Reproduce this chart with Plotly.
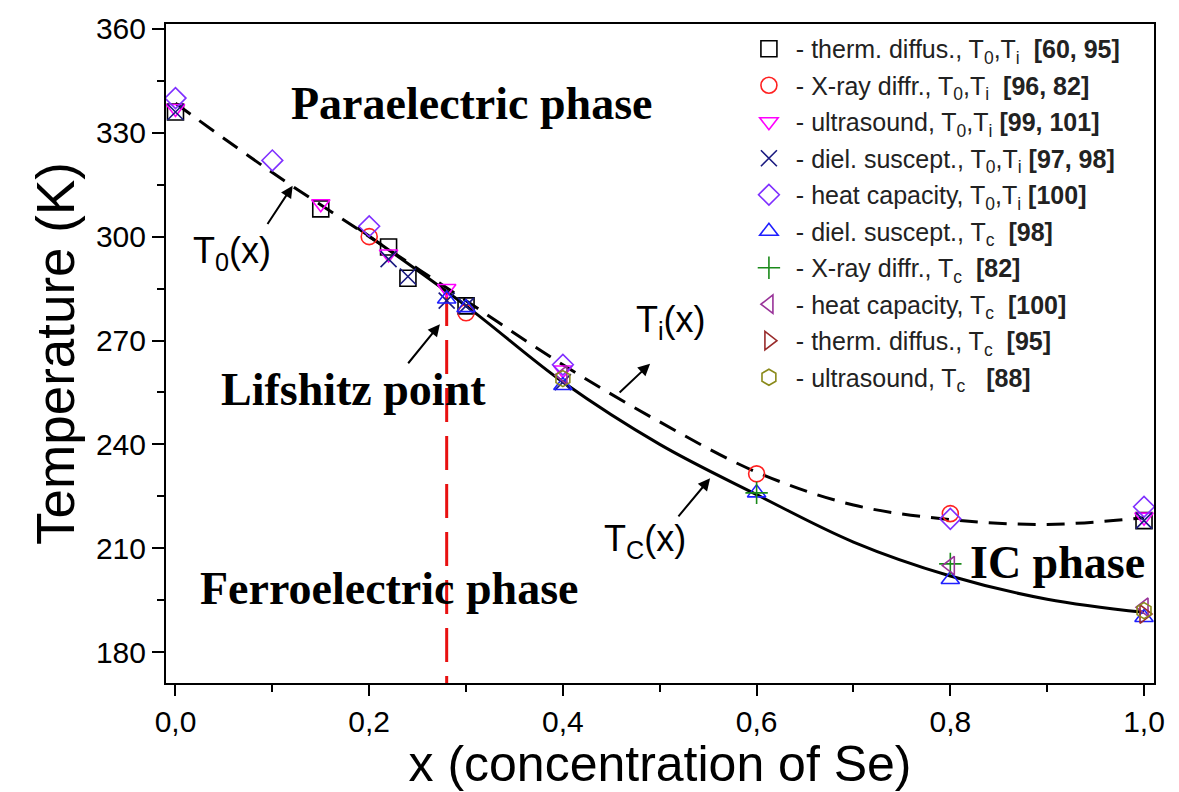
import plotly.graph_objects as go

# ---- data ----
therm_T0_x = [0.0, 0.15, 0.22, 0.24, 0.30, 1.0]
therm_T0_y = [336, 308, 297, 288, 280, 218]
xray_T0_x = [0.2, 0.3, 0.6, 0.8]
xray_T0_y = [300, 278, 231.5, 220]
ultra_T0_x = [0.0, 0.15, 0.22, 0.28, 0.4, 1.0]
ultra_T0_y = [337, 309.5, 295, 285, 261.5, 219]
diel_T0_x = [0.0, 0.22, 0.24, 0.28, 0.30, 0.4, 1.0]
diel_T0_y = [336, 293.5, 288.5, 281.5, 280, 258, 218]
heat_T0_x = [0.0, 0.1, 0.2, 0.4, 0.8, 1.0]
heat_T0_y = [340, 322, 303, 263, 218.5, 222]
diel_Tc_x = [0.28, 0.30, 0.4, 0.6, 0.8, 1.0]
diel_Tc_y = [282, 279.5, 257, 226, 201, 190]
xray_Tc_x = [0.6, 0.8]
xray_Tc_y = [226, 205.5]
heat_Tc_x = [0.4, 0.8, 1.0]
heat_Tc_y = [260, 205, 193]
therm_Tc_x = [1.0]
therm_Tc_y = [191]
ultra_Tc_x = [0.4, 1.0]
ultra_Tc_y = [259, 192]

# phase boundary curves
ti_curve_x = [0.0, 0.1, 0.2, 0.3, 0.4, 0.5, 0.6, 0.7, 0.8, 0.9, 1.0]
ti_curve_y = [338.5, 318.5, 300.0, 281.5, 263.0, 246.5, 232.0, 222.5, 218.3, 216.9, 218.8]
tc_curve_x = [0.188, 0.3, 0.4, 0.5, 0.6, 0.7, 0.8, 0.9, 1.0]
tc_curve_y = [302.5, 280.0, 258.0, 240.0, 225.5, 211.8, 202.0, 195.3, 191.5]

lifshitz_x = 0.28
lifshitz_T = 284

x_ticks = [0.0, 0.2, 0.4, 0.6, 0.8, 1.0]
y_ticks = [180, 210, 240, 270, 300, 330, 360]

series = [
    (therm_T0_x, therm_T0_y, "square-open", "#000000", " - therm. diffus., T<sub>0</sub>,T<sub>i</sub>  <b>[60, 95]</b>"),
    (xray_T0_x, xray_T0_y, "circle-open", "#ff2020", " - X-ray diffr., T<sub>0</sub>,T<sub>i</sub>  <b>[96, 82]</b>"),
    (ultra_T0_x, ultra_T0_y, "triangle-down-open", "#ff00ff", " - ultrasound, T<sub>0</sub>,T<sub>i</sub> <b>[99, 101]</b>"),
    (diel_T0_x, diel_T0_y, "x-thin-open", "#1a1a80", " - diel. suscept., T<sub>0</sub>,T<sub>i</sub> <b>[97, 98]</b>"),
    (heat_T0_x, heat_T0_y, "diamond-open", "#7f2fff", " - heat capacity, T<sub>0</sub>,T<sub>i</sub> <b>[100]</b>"),
    (diel_Tc_x, diel_Tc_y, "triangle-up-open", "#1f1fff", " - diel. suscept., T<sub>c</sub>  <b>[98]</b>"),
    (xray_Tc_x, xray_Tc_y, "cross-thin-open", "#1a8a1a", " - X-ray diffr., T<sub>c</sub>  <b>[82]</b>"),
    (heat_Tc_x, heat_Tc_y, "triangle-left-open", "#993399", " - heat capacity, T<sub>c</sub>  <b>[100]</b>"),
    (therm_Tc_x, therm_Tc_y, "triangle-right-open", "#992b2b", " - therm. diffus., T<sub>c</sub>  <b>[95]</b>"),
    (ultra_Tc_x, ultra_Tc_y, "hexagon-open", "#8a8a1a", " - ultrasound, T<sub>c</sub>   <b>[88]</b>"),
]

fig = go.Figure()

# curves
fig.add_trace(go.Scatter(x=ti_curve_x, y=ti_curve_y, mode="lines", showlegend=False,
                         line=dict(color="black", width=3, dash="18px,11px", shape="spline", smoothing=1.0),
                         hoverinfo="skip"))
fig.add_trace(go.Scatter(x=tc_curve_x, y=tc_curve_y, mode="lines", showlegend=False,
                         line=dict(color="black", width=3, shape="spline", smoothing=1.0),
                         hoverinfo="skip"))
# Lifshitz point vertical line
fig.add_trace(go.Scatter(x=[lifshitz_x, lifshitz_x], y=[lifshitz_T, 171.1], mode="lines", showlegend=False,
                         line=dict(color="#e81010", width=3, dash="34px,14px"), hoverinfo="skip"))

for i, (xs, ys, sym, col, name) in enumerate(series):
    fig.add_trace(go.Scatter(
        x=xs, y=ys, mode="markers", name=name, legendgroup=f"g{i}",
        marker=dict(symbol=sym, color=col, size=16, line=dict(color=col, width=1.6)),
    ))

serif = "Liberation Serif, Times New Roman, serif"
sans = "Liberation Sans, Arial, sans-serif"

annotations = [
    dict(x=0.306, y=338.5, text="<b>Paraelectric phase</b>", font=dict(family=serif, size=46, color="black")),
    dict(x=0.184, y=255.8, text="<b>Lifshitz point</b>", font=dict(family=serif, size=46, color="black")),
    dict(x=0.22, y=198.4, text="<b>Ferroelectric phase</b>", font=dict(family=serif, size=46, color="black")),
    dict(x=0.911, y=205.8, text="<b>IC phase</b>", font=dict(family=serif, size=46, color="black")),
    dict(x=0.058, y=295.4, text="T<sub>0</sub>(x)", font=dict(family=sans, size=36, color="black")),
    dict(x=0.512, y=275.3, text="T<sub>i</sub>(x)", font=dict(family=sans, size=36, color="black")),
    dict(x=0.485, y=212.2, text="T<sub>C</sub>(x)", font=dict(family=sans, size=36, color="black")),
]
for a in annotations:
    a.update(xref="x", yref="y", showarrow=False)

arrows = [
    (0.094, 303.2, 0.121, 314.7),
    (0.239, 263.0, 0.273, 274.7),
    (0.457, 254.6, 0.490, 263.3),
    (0.518, 218.8, 0.552, 230.2),
]
for tx, ty, hx, hy in arrows:
    annotations.append(dict(x=hx, y=hy, ax=tx, ay=ty, xref="x", yref="y", axref="x", ayref="y",
                            text="", showarrow=True, arrowhead=2, arrowsize=1.2, arrowwidth=2,
                            arrowcolor="black"))

fig.update_layout(
    width=1179, height=792,
    margin=dict(l=166, r=25, t=20, b=109),
    paper_bgcolor="white", plot_bgcolor="white",
    separators=", ",
    annotations=annotations,
    legend=dict(x=0.59, y=0.997, xanchor="left", yanchor="top", bgcolor="rgba(0,0,0,0)",
                font=dict(family=sans, size=25, color="#222"), tracegroupgap=1,
                itemwidth=30),
    xaxis=dict(range=[-0.0098, 1.0103], tickvals=x_ticks, tickformat=".1f",
               showline=True, linecolor="black", linewidth=2, mirror=True,
               ticks="outside", ticklen=11, tickwidth=2, tickcolor="black",
               minor=dict(dtick=0.1, ticks="outside", ticklen=7, tickwidth=2, tickcolor="black"),
               showgrid=False, zeroline=False,
               tickfont=dict(family=sans, size=30, color="black"),
               title=dict(text="x (concentration of Se)", font=dict(family=sans, size=50, color="black"), standoff=6)),
    yaxis=dict(range=[171.1, 361.4], tickvals=y_ticks,
               showline=True, linecolor="black", linewidth=2, mirror=True,
               ticks="outside", ticklen=12, tickwidth=2, tickcolor="black",
               minor=dict(tick0=180, dtick=15, ticks="outside", ticklen=7, tickwidth=2, tickcolor="black"),
               showgrid=False, zeroline=False,
               tickfont=dict(family=sans, size=30, color="black"),
               title=dict(text="Temperature (K)", font=dict(family=sans, size=53, color="black"), standoff=4)),
)

fig.write_html("out.html")
